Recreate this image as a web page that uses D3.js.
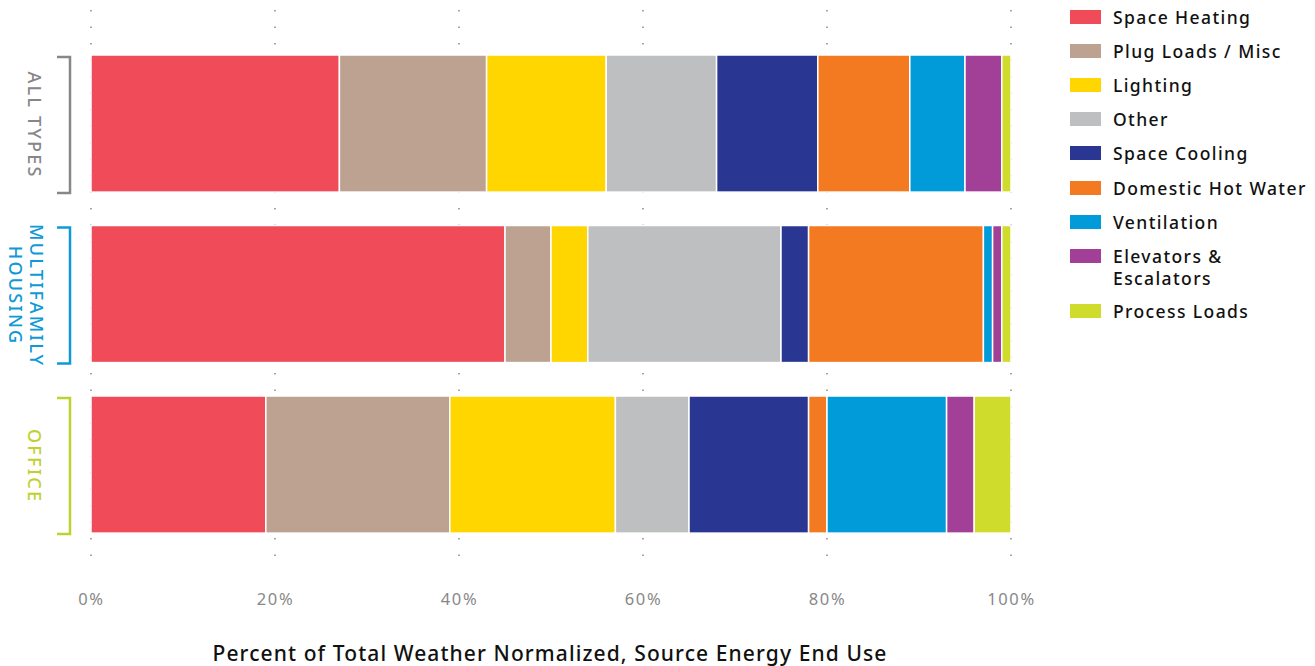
<!DOCTYPE html>
<html><head><meta charset="utf-8">
<script src="https://cdn.jsdelivr.net/npm/d3@7"></script>
<style>body{margin:0;background:#fff}svg{display:block}</style>
</head><body>
<svg id="c" width="1315" height="666"></svg>
<script>
const categories = ["ALL TYPES", "MULTIFAMILY HOUSING", "OFFICE"];
const endUses = ["Space Heating","Plug Loads / Misc","Lighting","Other","Space Cooling","Domestic Hot Water","Ventilation","Elevators & Escalators","Process Loads"];
const colors = ["#f04b58","#bda291","#ffd600","#bebfc1","#293692","#f47a22","#009bd8","#a14096","#d0dc2b"];
const allTypes =    [27,16,13,12,11,10,6,4,1];
const multifamily = [45,5,4,21,3,19,1,1,1];
const office =      [19,20,18,8,13,2,13,3,4];
const seriesValues = [allTypes, multifamily, office];
const labelColors = ["#87878a","#0f9ad6","#bfd12f"];
const tickValues = [0,20,40,60,80,100];

const svg = d3.select("#c");
const x = d3.scaleLinear().domain([0,100]).range([91,1011]);
const y = d3.scaleBand().domain(categories).range([37.95,550.15]).paddingInner(0.196).paddingOuter(0.1);

// dotted grid
svg.append("g").selectAll("line").data(tickValues).join("line")
  .attr("x1",d=>x(d)).attr("x2",d=>x(d)).attr("y1",10).attr("y2",566)
  .attr("stroke","#777").attr("stroke-width",1.3).attr("stroke-dasharray","1.5,15");

// bars
const rows = categories.map((c,i)=>{
  let acc=0;
  return seriesValues[i].map((v,j)=>{const s={cat:c,key:endUses[j],x0:acc,x1:acc+v,color:colors[j]};acc+=v;return s;});
});
svg.append("g").selectAll("g").data(rows).join("g").selectAll("rect").data(d=>d).join("rect")
  .attr("x",d=>x(d.x0)).attr("width",d=>x(d.x1)-x(d.x0))
  .attr("y",d=>y(d.cat)).attr("height",y.bandwidth())
  .attr("fill",d=>d.color).attr("stroke","#fff").attr("stroke-width",1.5);

// brackets and labels
categories.forEach((c,i)=>{
  const y0=y(c)+2, y1=y(c)+y.bandwidth()+1;
  svg.append("path").attr("d",`M57,${y0}H70V${y1}H57`).attr("fill","none")
    .attr("stroke",labelColors[i]).attr("stroke-width",2.5);
  const cy=(y0+y1)/2;
  const words = c==="MULTIFAMILY HOUSING"?["MULTIFAMILY","HOUSING"]:[c];
  const g=svg.append("g").attr("transform",`translate(${words.length>1?37:35},${cy}) rotate(90)`);
  words.forEach((w,k)=>{
    g.append("text").attr("x",0).attr("y",k*21)
      .attr("text-anchor","middle").attr("dominant-baseline","central")
      .attr("font-family","'Noto Sans', sans-serif").attr("font-size",18).attr("font-weight",500)
      .attr("letter-spacing",2.2).attr("fill",labelColors[i]).text(w);
  });
});

// x axis ticks
const ax = d3.axisBottom(x).tickValues(tickValues).tickFormat(d=>d+"%").tickSize(0);
const axg = svg.append("g").attr("transform","translate(0,590)").call(ax);
axg.select(".domain").remove();
axg.selectAll("text").attr("font-family","'Noto Sans', sans-serif").attr("font-size",16.5)
  .attr("letter-spacing",1.6).attr("fill","#888");

svg.append("text").attr("x",550).attr("y",661).attr("text-anchor","middle")
  .attr("font-family","'Noto Sans', sans-serif").attr("font-size",21).attr("font-weight",500)
  .attr("letter-spacing",1.1)
  .attr("fill","#111").text("Percent of Total Weather Normalized, Source Energy End Use");

// legend
const legY = [17,51,85,119,153,188,222,256,311];
const legLabels = ["Space Heating","Plug Loads / Misc","Lighting","Other","Space Cooling","Domestic Hot Water","Ventilation",["Elevators &","Escalators"],"Process Loads"];
const lg = svg.append("g");
endUses.forEach((u,i)=>{
  lg.append("rect").attr("x",1070).attr("y",legY[i]-7).attr("width",31).attr("height",14).attr("fill",colors[i]);
  const lines = Array.isArray(legLabels[i])?legLabels[i]:[legLabels[i]];
  lines.forEach((t,k)=>{
    lg.append("text").attr("x",1113).attr("y",legY[i]+k*22).attr("dominant-baseline","central")
      .attr("font-family","'Noto Sans', sans-serif").attr("font-size",17.5).attr("font-weight",500)
      .attr("letter-spacing",1.4).attr("fill","#111").text(t);
  });
});
</script>
</body></html>
